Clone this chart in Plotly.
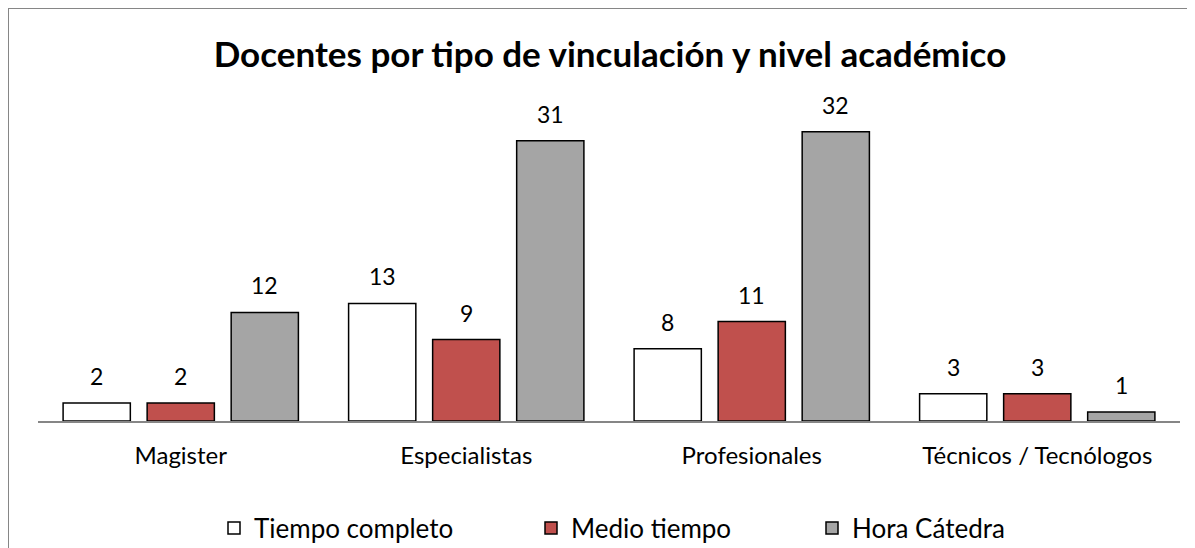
import plotly.graph_objects as go

categories = ["Magister", "Especialistas", "Profesionales", "Técnicos / Tecnólogos"]
series_names = ["Tiempo completo", "Medio tiempo", "Hora Cátedra"]
tiempo_completo = [2, 13, 8, 3]
medio_tiempo = [2, 9, 11, 3]
hora_catedra = [12, 31, 32, 1]
colors = ["#FFFFFF", "#C0504D", "#A5A5A5"]

FONT = "Lato, Carlito, Open Sans, sans-serif"

# page has an 8px body margin; figure coordinates below are page - 8
W, H = 1187, 540
L, T, PW, PH = 30, 92, 1142, 321

fig = go.Figure()
series = [tiempo_completo, medio_tiempo, hora_catedra]
legend_ids = ["legend", "legend2", "legend3"]
for name, vals, col, lg in zip(series_names, series, colors, legend_ids):
    fig.add_trace(go.Bar(
        name=name, x=categories, y=vals, legend=lg,
        marker=dict(color=col, line=dict(color="#000000", width=1.5)),
    ))

# data labels
shifts = [-84, 0, 84]
for vals, xs in zip(series, shifts):
    for c, v in zip(categories, vals):
        fig.add_annotation(x=c, y=v, text=str(v), showarrow=False,
                           xshift=xs, yshift=11, yanchor="bottom",
                           font=dict(size=23, color="#000000", family=FONT))

def px_x(p):
    return (p - L) / PW

def px_y(p):
    return (T + PH - p) / PH

legend_common = dict(orientation="h", yanchor="middle", xanchor="left",
                     font=dict(size=26, color="#000000", family=FONT),
                     itemwidth=30, bgcolor="rgba(0,0,0,0)")
box_lefts = [220, 537, 818]
legend_y = 520

fig.update_layout(
    width=W, height=H,
    paper_bgcolor="white", plot_bgcolor="white",
    margin=dict(l=L, r=W - L - PW, t=T, b=H - T - PH, autoexpand=False),
    barmode="group", bargap=0.117, bargroupgap=0.2,
    title=dict(text="<b>Docentes por tipo de vinculación y nivel académico</b>",
               xref="container", x=602 / W, xanchor="center",
               yref="container", y=1 - 47 / H, yanchor="middle",
               font=dict(size=35, color="#000000", family=FONT)),
    font=dict(family=FONT, color="#000000"),
    xaxis=dict(showline=True, linecolor="#868686", linewidth=1.5, ticks="",
               tickfont=dict(size=24, color="#000000", family=FONT), showgrid=False,
               ticklabelstandoff=12),
    yaxis=dict(range=[0, 35.5], visible=False, showgrid=False),
    legend=dict(legend_common, x=px_x(box_lefts[0] - 14), y=px_y(legend_y)),
    legend2=dict(legend_common, x=px_x(box_lefts[1] - 14), y=px_y(legend_y)),
    legend3=dict(legend_common, x=px_x(box_lefts[2] - 14), y=px_y(legend_y)),
    showlegend=True,
    shapes=[
        dict(type="line", xref="paper", yref="paper", x0=px_x(0), x1=px_x(W + 20),
             y0=px_y(0), y1=px_y(0), line=dict(color="#868686", width=2)),
        dict(type="line", xref="paper", yref="paper", x0=px_x(0), x1=px_x(0),
             y0=px_y(0), y1=px_y(H + 20), line=dict(color="#868686", width=2)),
    ],
)

fig.write_html("out.html")
